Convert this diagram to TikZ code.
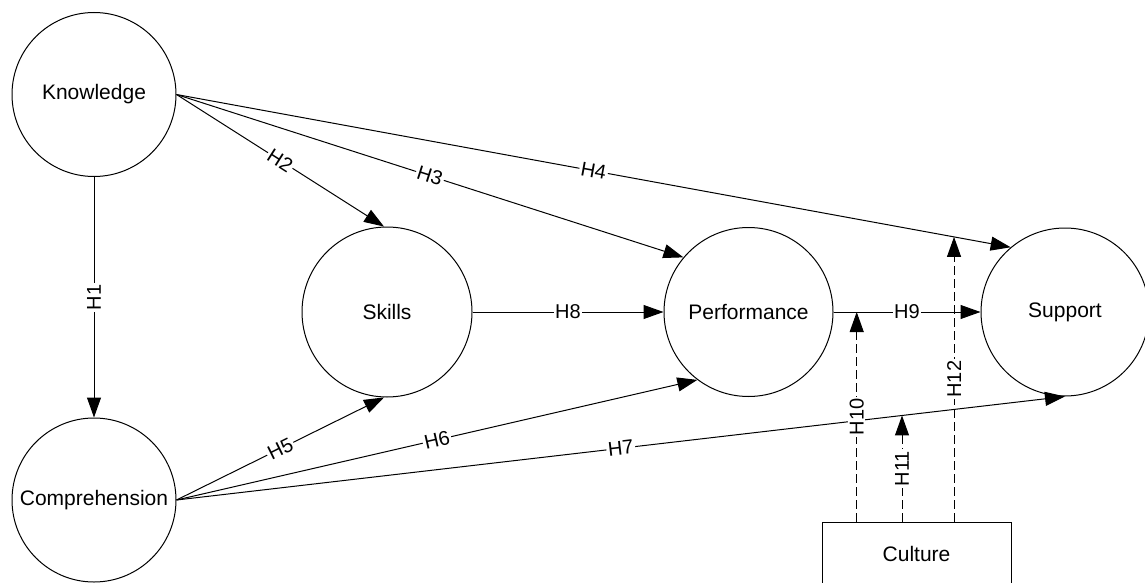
\documentclass[tikz,border=0pt]{standalone}
\usepackage{fontspec}
\setmainfont{Liberation Sans}
\usetikzlibrary{arrows.meta,intersections,calc}
\begin{document}
\begin{tikzpicture}[x=0.5pt,y=-0.5pt,
  every path/.style={line width=0.5pt},
  construct/.style={draw,circle,inner sep=0pt,font=\fontsize{10.5}{12}\selectfont},
  moderator/.style={draw,rectangle,inner sep=0pt,font=\fontsize{10.5}{12}\selectfont},
  link/.style={draw,-{Triangle[length=10pt,width=7pt]}},
  modlink/.style={link,dash pattern=on 4.5pt off 2pt},
  hyp/.style={fill=white,inner sep=0.8pt,font=\fontsize{10}{12}\selectfont}]
\useasboundingbox (0,0) rectangle (1145,583);

\node[construct,minimum size=82pt] (K) at (94,94.5) {Knowledge};
\node[construct,minimum size=82pt] (C) at (94,500) {Comprehension};
\node[construct,minimum size=85pt] (S) at (387,312) {Skills};
\node[construct,minimum size=84.5pt] (P) at (748.5,312) {Performance};
\node[construct,minimum size=84pt] (U) at (1065,312) {Support};
\node[moderator,minimum width=94.5pt,minimum height=31.5pt] (Cu) at (916.5,553.5) {Culture};

\draw[link] (K.south) -- node[hyp,rotate=90] {H1} (C.north);
\draw[link] (K.east) -- node[hyp,sloped] {H2} (S.92);
\draw[link] (K.east) -- node[hyp,sloped] {H3} (P.140);
\draw[link,name path=e4] (K.east) -- node[hyp,sloped] {H4} (U.130);
\draw[link] (C.east) -- node[hyp,sloped] {H5} (S.268);
\draw[link] (C.east) -- node[hyp,sloped] {H6} (P.233);
\draw[link,name path=e7] (C.east) -- node[hyp,sloped] {H7} (U.south);
\draw[link] (S.east) -- node[hyp] {H8} (P.west);
\draw[link,name path=e9] (P.east) -- node[hyp] {H9} (U.west);

\path[name path=v10] (856.7,0) -- (856.7,583);
\path[name path=v11] (902,0) -- (902,583);
\path[name path=v12] (954,0) -- (954,583);
\path[name intersections={of=e9 and v10,by=t10}];
\path[name intersections={of=e7 and v11,by=t11}];
\path[name intersections={of=e4 and v12,by=t12}];

\draw[modlink] (t10 |- Cu.north) -- node[hyp,rotate=90] {H10} (t10);
\draw[modlink] (t11 |- Cu.north) -- node[hyp,rotate=90] {H11} (t11);
\draw[modlink] (t12 |- Cu.north) -- node[hyp,rotate=90] {H12} (t12);
\end{tikzpicture}
\end{document}
